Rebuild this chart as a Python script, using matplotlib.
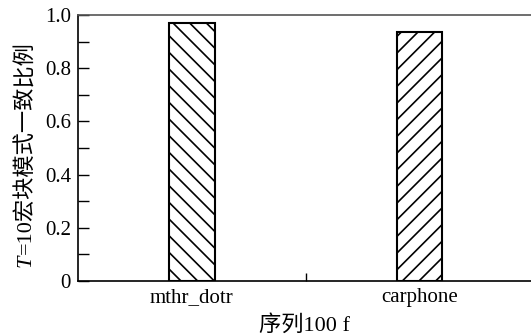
import matplotlib
matplotlib.use("Agg")
import matplotlib.pyplot as plt
from matplotlib.ticker import MultipleLocator, FixedLocator

plt.rcParams["font.family"] = ["Liberation Serif", "Noto Sans CJK SC"]
plt.rcParams["font.size"] = 15
plt.rcParams["hatch.linewidth"] = 1.2

sequences = ["mthr_dotr", "carphone"]
ratios = [0.971, 0.937]
hatches = ["\\\\", "//"]
yticks = [0, 0.2, 0.4, 0.6, 0.8, 1.0]
ytick_labels = ["0", "0.2", "0.4", "0.6", "0.8", "1.0"]

fig = plt.figure(figsize=(5.31, 3.36), dpi=100)
ax = fig.add_axes([0.147, 0.164, 0.853, 0.791])

x = list(range(len(sequences)))
for xi, v, h in zip(x, ratios, hatches):
    ax.bar(xi, v, width=0.2, facecolor="white", edgecolor="black",
           linewidth=1.5, hatch=h, zorder=3)

ax.set_xlim(-0.5, 1.49)
ax.set_ylim(0, 1.0)
ax.set_xticks(x)
ax.set_xticklabels(sequences)
ax.tick_params(axis="x", which="major", length=0, pad=5)
ax.xaxis.set_minor_locator(FixedLocator([0.5]))
ax.tick_params(axis="x", which="minor", direction="in", length=6, width=1)

ax.set_yticks(yticks)
ax.set_yticklabels(ytick_labels)
ax.yaxis.set_minor_locator(MultipleLocator(0.1))
ax.tick_params(axis="y", which="both", direction="in", length=8, width=1, pad=5)

ax.spines["right"].set_visible(False)
for s in ("left", "bottom"):
    ax.spines[s].set_linewidth(1.2)
ax.spines["top"].set_linewidth(1.2)
ax.spines["top"].set_color("#555555")

ax.set_xlabel("序列100 f", fontsize=16, labelpad=6)
ylab = ax.set_ylabel("=10宏块模式一致比例", fontsize=16, labelpad=6)
ax.annotate("T", xy=(0.5, 0.0), xycoords=ylab, rotation=90,
            ha="center", va="top", fontstyle="italic",
            family="Liberation Serif", fontsize=16)

fig.savefig("out.png", dpi=100)
